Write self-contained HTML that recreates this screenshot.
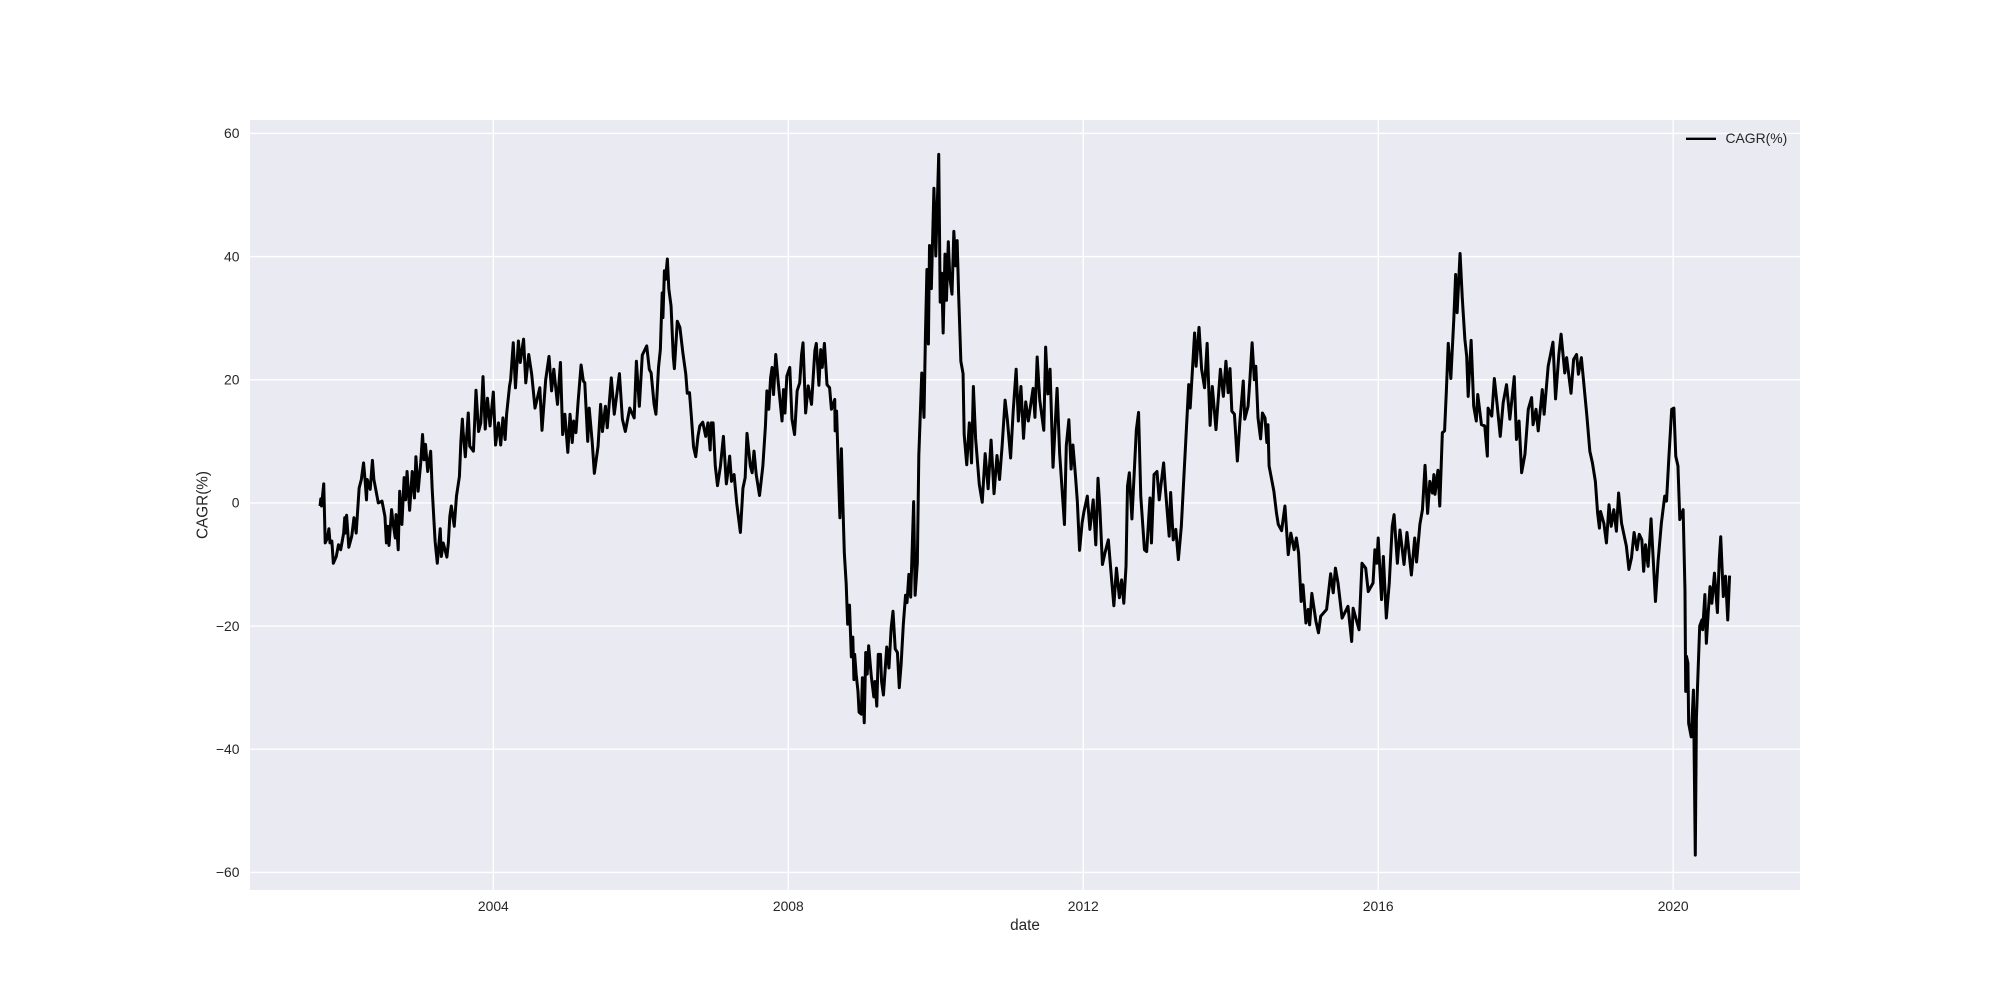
<!DOCTYPE html>
<html lang="en">
<head>
<meta charset="utf-8">
<title>CAGR(%) by date</title>
<style>
html,body{margin:0;padding:0;background:#fff;}
svg{display:block;font-family:"Liberation Sans",Arial,sans-serif;}
text{fill:#262626;}
</style>
</head>
<body>
<svg id="chart" xmlns="http://www.w3.org/2000/svg" width="2000" height="1000" viewBox="0 0 2000 1000">
  <rect x="0" y="0" width="2000" height="1000" fill="#ffffff"/>
  <rect x="250" y="120" width="1550" height="770" fill="#EAEAF2"/>
  <g id="grid"></g>
  <g id="xticks"></g>
  <g id="yticks"></g>
  <path id="series" fill="none" stroke="#000000" stroke-width="3" stroke-linejoin="round" stroke-linecap="butt"/>
  <text x="1025" y="930" font-size="15.3" text-anchor="middle">date</text>
  <text x="0" y="0" font-size="15.3" text-anchor="middle" transform="translate(207.5,505) rotate(-90)">CAGR(%)</text>
  <g>
    <line x1="1686" y1="138.8" x2="1716" y2="138.8" stroke="#000000" stroke-width="2.43"/>
    <text x="1725.5" y="143" font-size="13.9">CAGR(%)</text>
  </g>
</svg>
<script>
const xTickYears = [2004, 2008, 2012, 2016, 2020];
const yTickValues = [-60, -40, -20, 0, 20, 40, 60];

const dates = [
2001.65,2001.66,2001.67,2001.70,2001.72,2001.75,2001.77,2001.785,2001.81,2001.83,
2001.87,2001.90,2001.93,2001.97,2001.985,2001.99,2002.01,2002.04,2002.08,2002.11,
2002.14,2002.18,2002.21,2002.24,2002.26,2002.28,2002.29,2002.33,2002.36,2002.38,
2002.44,2002.49,2002.53,2002.55,2002.57,2002.585,2002.62,2002.64,2002.67,2002.68,
2002.71,2002.73,2002.76,2002.79,2002.81,2002.83,2002.865,2002.90,2002.93,2002.95,
2002.98,2003.015,2003.04,2003.06,2003.08,2003.11,2003.15,2003.17,2003.19,2003.21,
2003.24,2003.28,2003.295,2003.32,2003.37,2003.39,2003.41,2003.43,2003.47,2003.50,
2003.54,2003.56,2003.58,2003.59,2003.62,2003.66,2003.68,2003.73,2003.765,2003.80,
2003.83,2003.86,2003.89,2003.92,2003.955,2004.00,2004.03,2004.07,2004.10,2004.13,
2004.16,2004.18,2004.22,2004.235,2004.27,2004.30,2004.34,2004.365,2004.41,2004.44,
2004.48,2004.52,2004.565,2004.63,2004.66,2004.71,2004.755,2004.79,2004.82,2004.87,
2004.91,2004.94,2004.97,2005.01,2005.04,2005.07,2005.09,2005.12,2005.15,2005.19,
2005.22,2005.24,2005.28,2005.30,2005.34,2005.37,2005.42,2005.455,2005.48,2005.52,
2005.545,2005.60,2005.64,2005.71,2005.75,2005.79,2005.85,2005.91,2005.94,2005.98,
2006.02,2006.08,2006.115,2006.14,2006.18,2006.205,2006.24,2006.265,2006.29,2006.30,
2006.32,2006.335,2006.36,2006.38,2006.41,2006.44,2006.455,2006.495,2006.53,2006.57,
2006.61,2006.63,2006.66,2006.685,2006.715,2006.745,2006.775,2006.80,2006.84,2006.88,
2006.91,2006.94,2006.955,2006.98,2007.01,2007.04,2007.08,2007.12,2007.16,2007.18,
2007.205,2007.23,2007.265,2007.30,2007.35,2007.385,2007.415,2007.44,2007.485,2007.51,
2007.535,2007.565,2007.61,2007.655,2007.69,2007.71,2007.735,2007.76,2007.78,2007.80,
2007.83,2007.86,2007.915,2007.935,2007.955,2007.98,2008.02,2008.05,2008.085,2008.12,
2008.155,2008.18,2008.20,2008.235,2008.27,2008.315,2008.36,2008.38,2008.415,2008.44,
2008.46,2008.49,2008.525,2008.56,2008.585,2008.63,2008.635,2008.655,2008.68,2008.70,
2008.72,2008.74,2008.76,2008.785,2008.805,2008.83,2008.855,2008.875,2008.89,2008.90,
2008.92,2008.945,2008.96,2008.99,2009.005,2009.03,2009.05,2009.07,2009.09,2009.125,
2009.16,2009.175,2009.20,2009.22,2009.25,2009.265,2009.29,2009.335,2009.365,2009.395,
2009.42,2009.45,2009.48,2009.505,2009.53,2009.56,2009.59,2009.61,2009.635,2009.66,
2009.68,2009.70,2009.72,2009.75,2009.77,2009.81,2009.84,2009.86,2009.88,2009.90,
2009.915,2009.94,2009.975,2010.00,2010.04,2010.06,2010.08,2010.10,2010.125,2010.145,
2010.17,2010.19,2010.22,2010.245,2010.27,2010.29,2010.31,2010.34,2010.37,2010.385,
2010.42,2010.455,2010.485,2010.51,2010.54,2010.59,2010.63,2010.67,2010.71,2010.75,
2010.79,2010.83,2010.865,2010.90,2010.94,2010.97,2011.015,2011.05,2011.09,2011.12,
2011.155,2011.19,2011.22,2011.255,2011.32,2011.345,2011.375,2011.41,2011.465,2011.49,
2011.52,2011.55,2011.59,2011.645,2011.68,2011.745,2011.77,2011.805,2011.835,2011.86,
2011.895,2011.92,2011.95,2011.985,2012.01,2012.055,2012.09,2012.135,2012.17,2012.20,
2012.225,2012.26,2012.295,2012.34,2012.385,2012.415,2012.45,2012.49,2012.52,2012.55,
2012.58,2012.60,2012.625,2012.66,2012.70,2012.72,2012.75,2012.78,2012.83,2012.86,
2012.905,2012.925,2012.96,2013.00,2013.03,2013.09,2013.115,2013.165,2013.185,2013.22,
2013.255,2013.29,2013.33,2013.365,2013.39,2013.43,2013.45,2013.51,2013.53,2013.57,
2013.605,2013.645,2013.68,2013.72,2013.75,2013.80,2013.86,2013.90,2013.935,2013.965,
2013.99,2014.015,2014.05,2014.09,2014.125,2014.17,2014.19,2014.235,2014.26,2014.29,
2014.32,2014.34,2014.37,2014.405,2014.43,2014.465,2014.49,2014.505,2014.52,2014.555,
2014.585,2014.62,2014.645,2014.69,2014.735,2014.78,2014.815,2014.86,2014.89,2014.92,
2014.955,2014.98,2015.02,2015.05,2015.07,2015.10,2015.155,2015.19,2015.22,2015.30,
2015.355,2015.39,2015.42,2015.455,2015.51,2015.59,2015.64,2015.66,2015.74,2015.78,
2015.83,2015.865,2015.93,2015.955,2015.98,2016.00,2016.045,2016.07,2016.11,2016.15,
2016.19,2016.215,2016.26,2016.295,2016.35,2016.39,2016.45,2016.495,2016.52,2016.565,
2016.60,2016.635,2016.67,2016.70,2016.735,2016.755,2016.77,2016.81,2016.835,2016.87,
2016.90,2016.925,2016.95,2016.985,2017.025,2017.05,2017.07,2017.11,2017.14,2017.175,
2017.20,2017.22,2017.26,2017.295,2017.33,2017.35,2017.40,2017.445,2017.48,2017.49,
2017.54,2017.575,2017.615,2017.655,2017.695,2017.74,2017.785,2017.845,2017.875,2017.91,
2017.945,2017.99,2018.035,2018.08,2018.10,2018.14,2018.17,2018.225,2018.25,2018.305,
2018.37,2018.405,2018.45,2018.48,2018.53,2018.555,2018.615,2018.65,2018.69,2018.715,
2018.755,2018.80,2018.83,2018.87,2018.905,2018.945,2018.975,2019.00,2019.015,2019.06,
2019.095,2019.13,2019.16,2019.195,2019.23,2019.26,2019.30,2019.365,2019.40,2019.435,
2019.47,2019.51,2019.54,2019.575,2019.60,2019.625,2019.66,2019.70,2019.76,2019.795,
2019.84,2019.885,2019.91,2019.94,2019.98,2020.01,2020.035,2020.065,2020.09,2020.135,
2020.16,2020.17,2020.18,2020.20,2020.21,2020.245,2020.275,2020.30,2020.315,2020.34,
2020.36,2020.39,2020.40,2020.43,2020.45,2020.475,2020.50,2020.525,2020.56,2020.60,
2020.625,2020.645,2020.68,2020.71,2020.74,2020.765
];

const cagrValues = [
-0.5,0.65,-0.5,3.1,-6.5,-5.7,-4.2,-6.5,-6.2,-9.8,
-8.7,-6.8,-7.6,-4.9,-2.4,-4.9,-2,-7.2,-5.4,-2.4,
-4.9,2.4,3.8,6.5,3.8,0.5,3.8,2.2,6.9,3.8,
0,0.3,-2.2,-6.5,-3.8,-6.9,-1.1,-3.3,-5.7,-1.9,
-7.6,1.9,-3.5,4.1,0.5,5.1,-1.2,5.1,0.8,7.5,
1.9,6.5,11.1,7,9.5,5.1,8.4,2.4,-1.9,-6.2,
-9.8,-4.2,-8.7,-6.5,-8.8,-6.5,-2.2,-0.5,-3.8,1.1,
4.3,10,13.6,11.6,7.5,14.6,9.2,8.4,18.3,11.6,
13,20.5,12,17,12.5,18,9.4,13,9.4,13.8,
10.3,14.4,19,20,26,18.7,26.3,22.8,26.6,19.5,
24.1,20.9,15.4,18.7,11.8,20,23.8,18.2,21.7,16,
22.8,11.1,14.4,8.2,14.4,9.8,13.3,11.4,16.5,22.4,
19.8,19.5,10,15.4,10,4.8,9.2,16,11.6,15.7,
12.2,20.3,14.4,21,13.6,11.6,15.4,13.8,23,15.7,
24,25.5,21.7,21.1,16,14.4,22,24.9,34.1,30.1,
37.7,36.3,39.6,34.7,32,23.8,21.8,29.5,28.5,24.4,
20.9,17.8,17.9,14.1,9.1,7.5,10.8,12.5,13.1,10.8,
13,8.6,13,13,6,2.8,6,10.8,3.1,4.9,
7.6,3.5,4.6,0,-4.8,2.4,4.1,11.3,6,4.9,
8.4,4.6,1.2,6,12.5,18.2,15.2,20.3,22,17.6,
24.1,20,13.3,18.4,14.6,20.6,22,13.6,11.1,18.2,
19.5,24.1,26,14.6,19,16,24.7,25.9,19.1,24.9,
22,25.9,19.2,18.7,15.2,16.8,11.7,14.9,4.9,-2.4,
8.8,-0.1,-8.2,-13.1,-19.7,-16.6,-25,-21.8,-28.7,-24.6,
-27.8,-30.6,-34,-34.3,-28.4,-35.7,-24.3,-27.8,-23.2,-28.1,
-31.5,-29,-33,-24.6,-24.6,-29,-31.2,-23.4,-26.8,-20.3,
-17.6,-23.7,-24.3,-30,-26.2,-19.7,-15,-16.2,-11.6,-15.3,
-7.5,0.2,-15,-9.7,7.7,21.1,13.9,27.3,37.9,25.8,
41.8,34.8,51.1,40.1,56.6,32.6,37.3,27.6,40.4,32.9,
42.4,36.7,33.9,44.1,38.5,42.6,33.9,23,21,11.1,
6.2,13,6.5,18.9,10.5,3,0.1,8,2.3,10.2,
1.5,7.7,3.8,9.3,16.7,13.6,7.3,14.9,21.7,13.3,
18.9,10.5,16.4,13.3,18.6,13.9,23.7,16.7,11.8,25.3,
17.7,21.7,5.8,18.6,8,-3.5,9.3,13.5,5.5,9.4,
4.3,0.2,-7.7,-3.2,-1.4,1.1,-4.3,0.5,-6.8,4,
-0.8,-10,-8.1,-6,-12.5,-16.7,-10.6,-15.4,-12.5,-16.3,
-10.3,2.7,4.9,-2.6,7,11.9,14.7,1.1,-7.6,-7.9,
0.8,-6.5,4.6,5.1,0.5,6.5,2.2,-5.4,1.7,-6,
-4.3,-9.2,-3.8,4.3,10,19.2,15.4,27.6,22.2,28.5,
21.7,18.7,25.9,12.6,18.9,11.9,21.7,17.3,23,17.9,
21.8,14.9,14.4,6.8,13.3,19.8,13.6,15.7,20,26,
20,22.2,13.8,10.4,14.6,13.8,9.8,12.7,6,3.8,
1.9,-1.6,-3.5,-4.5,-0.5,-8.4,-4.9,-7.6,-5.7,-8.1,
-16,-13.3,-19.5,-17.3,-19.8,-14.7,-19.2,-21.1,-18.4,-17.3,
-11.5,-14.6,-10.6,-13,-18.7,-16.8,-22.5,-17.1,-20.6,-9.8,
-10.6,-14.4,-13,-7.6,-9.8,-5.7,-15.7,-8.7,-18.7,-13,
-3.8,-1.9,-9.8,-4.4,-10,-4.8,-11.7,-5.7,-9.6,-3.5,
-1.1,6.1,-1.7,3.5,1.6,4.6,1.4,5.3,-0.5,11.4,
11.7,18.4,25.9,20.2,29.8,37.1,30.9,40.5,33.3,26.6,
23.8,17.3,26.4,15.7,13.3,17.6,12.7,12.5,7.6,15.4,
14.1,20.2,15.7,10.8,16.3,19.2,13.6,20.5,10.3,13.3,
4.9,7.9,15.2,17.1,12.7,15.2,11.7,18.4,14.4,22.2,
26.1,16.9,24.1,27.4,21.1,23.6,17.8,23.3,24.1,20.9,
23.6,17.9,14.1,8.4,6.5,3.5,-1.6,-4.1,-1.4,-3.3,
-6.5,-0.3,-3.8,-1.1,-4.6,1.6,-3.3,-7,-10.8,-8.9,
-4.8,-7.6,-5.1,-6,-11.1,-6.8,-10.3,-2.6,-16,-9.5,
-3.3,1.1,0.3,7,15.2,15.4,7.6,6,-2.7,-1.1,
-14.1,-30.6,-24.9,-26,-35.8,-38,-30.4,-57.2,-35,-26.6,
-20,-19,-20.6,-14.9,-22.8,-17.9,-13.6,-16.3,-11.4,-17.8,
-9.2,-5.5,-15.2,-11.9,-19,-11.8
];

const xDomain = [2000.70, 2021.72];
const yDomain = [-62.86, 62.18];
const plotLeft = 250, plotRight = 1800, plotTop = 120, plotBottom = 890;

function xScale(year) {
  return plotLeft + (year - xDomain[0]) / (xDomain[1] - xDomain[0]) * (plotRight - plotLeft);
}
function yScale(value) {
  return plotBottom - (value - yDomain[0]) / (yDomain[1] - yDomain[0]) * (plotBottom - plotTop);
}

const NS = 'http://www.w3.org/2000/svg';
const gridGroup = document.getElementById('grid');
const xTickGroup = document.getElementById('xticks');
const yTickGroup = document.getElementById('yticks');

function makeGridLine(x1, y1, x2, y2) {
  const line = document.createElementNS(NS, 'line');
  line.setAttribute('x1', x1);
  line.setAttribute('y1', y1);
  line.setAttribute('x2', x2);
  line.setAttribute('y2', y2);
  line.setAttribute('stroke', '#ffffff');
  line.setAttribute('stroke-width', '1.39');
  return line;
}

xTickYears.forEach(function (year) {
  const x = xScale(year);
  const line = makeGridLine(x, plotTop, x, plotBottom);
  
  
  gridGroup.appendChild(line);
  const label = document.createElementNS(NS, 'text');
  
  
  label.setAttribute('x', x);
  label.setAttribute('y', 911);
  label.setAttribute('font-size', '13.9');
  label.setAttribute('text-anchor', 'middle');
  label.textContent = String(year);
  xTickGroup.appendChild(label);
});

yTickValues.forEach(function (value) {
  const y = yScale(value);
  const line = makeGridLine(plotLeft, y, plotRight, y);
  
  
  gridGroup.appendChild(line);
  const label = document.createElementNS(NS, 'text');
  
  
  label.setAttribute('x', 239.5);
  label.setAttribute('y', y + 4.8);
  label.setAttribute('font-size', '13.9');
  label.setAttribute('text-anchor', 'end');
  label.textContent = String(value).replace('-', '\u2212');
  yTickGroup.appendChild(label);
});

let pathData = '';
dates.forEach(function (year, i) {
  pathData += (i === 0 ? 'M' : 'L') + xScale(year).toFixed(2) + ' ' + yScale(cagrValues[i]).toFixed(2);
});
document.getElementById('series').setAttribute('d', pathData);
</script>
</body>
</html>
